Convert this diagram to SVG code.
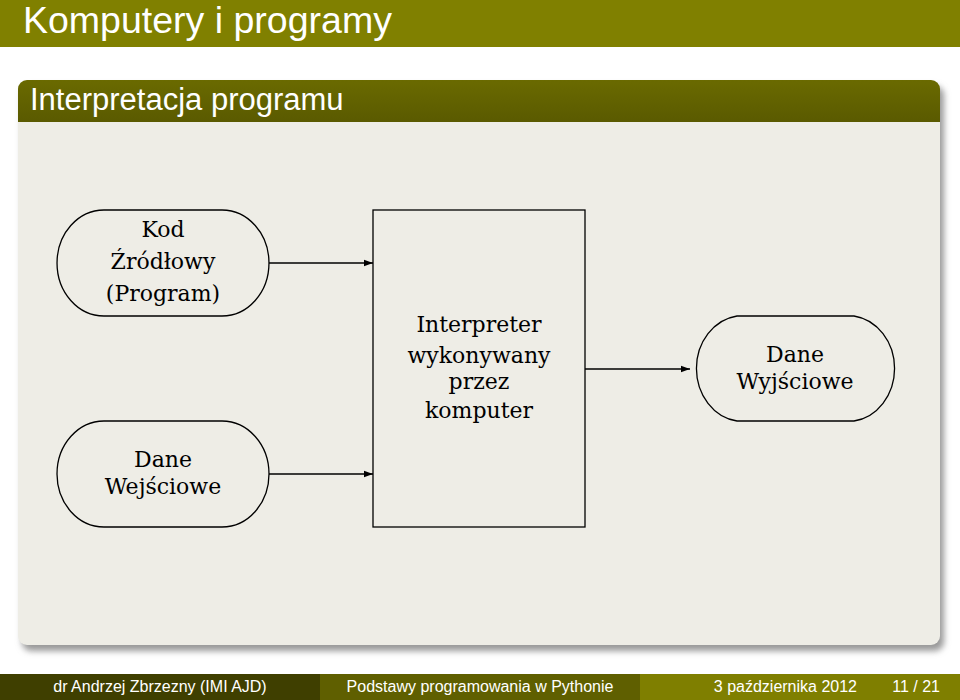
<svg xmlns="http://www.w3.org/2000/svg" width="960" height="700" viewBox="0 0 960 700">
<defs>
<linearGradient id="tb" x1="0" y1="0" x2="0" y2="1"><stop offset="0" stop-color="#6a6a00"/><stop offset="1" stop-color="#5a5a00"/></linearGradient>
<filter id="sh" x="-5%" y="-5%" width="110%" height="115%"><feGaussianBlur stdDeviation="3"/></filter>
<marker id="ar" viewBox="0 0 10 10" refX="10" refY="5" markerWidth="9" markerHeight="9" markerUnits="userSpaceOnUse" orient="auto"><path d="M0,1.5 L10,5 L0,8.5 Z" fill="#000"/></marker>
<clipPath id="blk"><rect x="18" y="80" width="922" height="565" rx="9"/></clipPath>
</defs>
<style>
.hd{font-family:"Liberation Sans",Arial,sans-serif;fill:#fff}
.sf{font-family:"DejaVu Serif","Liberation Serif",serif;font-size:22px;fill:#000;text-anchor:middle}
.ft{font-family:"Liberation Sans",Arial,sans-serif;font-size:16px;fill:#fff}
.nd{fill:none;stroke:#000;stroke-width:1.3}
.cn{stroke:#000;stroke-width:1.5;fill:none;marker-end:url(#ar)}
</style>
<rect width="960" height="700" fill="#fff"/>
<rect x="0" y="0" width="960" height="47" fill="#808000"/>
<text class="hd" x="23" y="33" font-size="37.5">Komputery i programy</text>
<rect x="22" y="86" width="922" height="565" rx="9" fill="#999" filter="url(#sh)"/>
<g clip-path="url(#blk)">
<rect x="18" y="80" width="922" height="565" fill="#eeede6"/>
<rect x="18" y="80" width="922" height="42" fill="url(#tb)"/>
</g>
<text class="hd" x="30" y="110" font-size="31">Interpretacja programu</text>
<g id="kod">
<path class="nd" d="M104,210 H222 A47,53 0 0 1 222,316 H104 A47,53 0 0 1 104,210 Z"/>
<text class="sf" x="163" y="237">Kod</text>
<text class="sf" x="163" y="269">Źródłowy</text>
<text class="sf" x="163" y="301">(Program)</text>
</g>
<g id="wej">
<path class="nd" d="M104,421 H222 A47,53 0 0 1 222,527 H104 A47,53 0 0 1 104,421 Z"/>
<text class="sf" x="163" y="467">Dane</text>
<text class="sf" x="163" y="494">Wejściowe</text>
</g>
<g id="interp">
<rect class="nd" x="373" y="210" width="212" height="317" stroke-width="1.6"/>
<text class="sf" x="479" y="332">Interpreter</text>
<text class="sf" x="479" y="363">wykonywany</text>
<text class="sf" x="479" y="389">przez</text>
<text class="sf" x="479" y="418">komputer</text>
</g>
<g id="wyj">
<path class="nd" d="M737,316 H854 A47,53 0 0 1 854,421 H737 A47,53 0 0 1 737,316 Z"/>
<text class="sf" x="795" y="362">Dane</text>
<text class="sf" x="795" y="389">Wyjściowe</text>
</g>
<g id="connectors">
<line class="cn" x1="269" y1="263" x2="373" y2="263"/>
<line class="cn" x1="269" y1="474" x2="373" y2="474"/>
<line class="cn" x1="585" y1="369" x2="690" y2="369"/>
</g>
<rect x="0" y="674" width="320" height="26" fill="#3f3f00"/>
<rect x="320" y="674" width="320" height="26" fill="#5f5f00"/>
<rect x="640" y="674" width="320" height="26" fill="#7f7f00"/>
<text class="ft" x="160" y="692" text-anchor="middle">dr Andrzej Zbrzezny  (IMI AJD)</text>
<text class="ft" x="480" y="692" text-anchor="middle">Podstawy programowania w Pythonie</text>
<text class="ft" x="857" y="692" text-anchor="end">3 października 2012</text>
<text class="ft" x="940" y="692" text-anchor="end">11 / 21</text>
</svg>
